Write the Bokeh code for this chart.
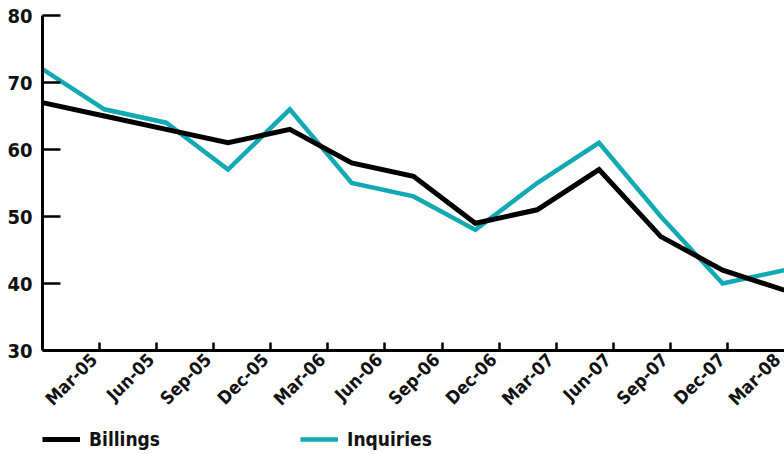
import math
from bokeh.plotting import figure
from bokeh.models import FixedTicker, Range1d, Legend, LegendItem
from bokeh.embed import file_html
from bokeh.resources import INLINE

quarters = ["Mar-05", "Jun-05", "Sep-05", "Dec-05", "Mar-06", "Jun-06", "Sep-06",
            "Dec-06", "Mar-07", "Jun-07", "Sep-07", "Dec-07", "Mar-08"]
billings = [67, 65, 63, 61, 63, 58, 56, 49, 51, 57, 47, 42, 39]
inquiries = [72, 66, 64, 57, 66, 55, 53, 48, 55, 61, 50, 40, 42]
y_ticks = [30, 40, 50, 60, 70, 80]

FONT = "DejaVu Sans Condensed"
n = len(quarters)
xs = list(range(n))
band = (n - 1) / n
boundaries = [band * k for k in range(1, n)]
label_pos = [band * k + 0.83 for k in range(n)]
Y0, Y1 = 30, 80

p = figure(width=784, height=454, output_backend="svg", toolbar_location=None,
           x_range=Range1d(0, n - 1), y_range=Range1d(14.48, Y1),
           min_border_left=42, min_border_right=0, min_border_top=15, min_border_bottom=0)
p.outline_line_color = None
p.grid.grid_line_color = None
p.background_fill_color = "white"

r_inq = p.line(xs, inquiries, line_color="#12A9B3", line_width=4.5, line_join="miter")
r_bil = p.line(xs, billings, line_color="#000000", line_width=5, line_join="miter")

xa = p.xaxis[0]
xa.fixed_location = Y0
xa.ticker = FixedTicker(ticks=label_pos, minor_ticks=boundaries)
xa.major_label_overrides = {lp: q for lp, q in zip(label_pos, quarters)}
xa.major_label_orientation = math.pi / 4
xa.major_tick_in = 0
xa.major_tick_out = 0
xa.minor_tick_in = 8
xa.minor_tick_out = 0
xa.minor_tick_line_width = 2.5
xa.minor_tick_line_color = "black"
xa.axis_line_width = 3
xa.axis_line_color = "black"
xa.major_label_standoff = 6
xa.major_label_text_font = FONT
xa.major_label_text_font_style = "bold"
xa.major_label_text_font_size = "18px"
xa.major_label_text_color = "#111111"

ya = p.yaxis[0]
ya.bounds = (Y0, Y1)
ya.ticker = FixedTicker(ticks=y_ticks)
ya.minor_tick_line_color = None
ya.major_tick_in = 18
ya.major_tick_out = 0
ya.major_tick_line_width = 2.5
ya.major_tick_line_color = "black"
ya.axis_line_width = 3
ya.axis_line_color = "black"
ya.major_label_standoff = 10
ya.major_label_text_font = FONT
ya.major_label_text_font_style = "bold"
ya.major_label_text_font_size = "20px"
ya.major_label_text_color = "#111111"

legend = Legend(items=[LegendItem(label="Billings", renderers=[r_bil]),
                       LegendItem(label="Inquiries", renderers=[r_inq])],
                location=(0, 4), orientation="horizontal",
                glyph_width=38, glyph_height=20, label_standoff=9, spacing=140,
                padding=0, margin=0, background_fill_alpha=0, border_line_alpha=0,
                label_text_font=FONT, label_text_font_style="bold",
                label_text_font_size="19px", label_text_color="#111111")
p.add_layout(legend, "center")

open("out.html", "w").write(file_html(p, INLINE))
